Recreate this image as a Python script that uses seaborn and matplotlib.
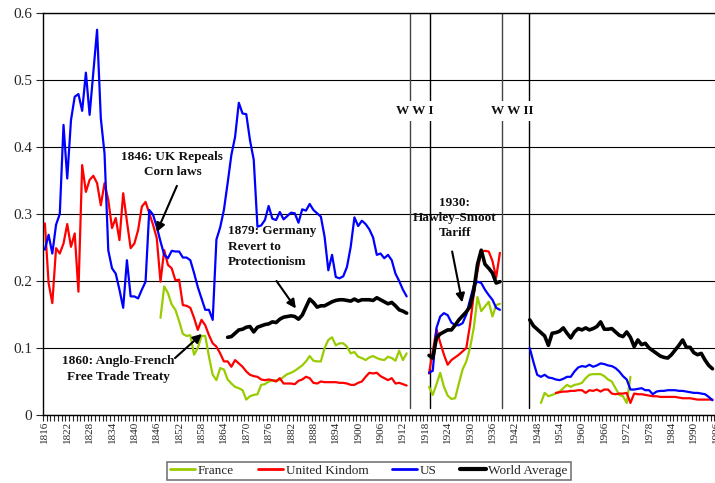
import numpy as np
import pandas as pd
import matplotlib
matplotlib.use("Agg")
import matplotlib.pyplot as plt
from matplotlib.lines import Line2D
import seaborn as sns

# tariff ratios, one list per series and period
us_1816 = [0.247, 0.269, 0.241, 0.284, 0.300, 0.433, 0.353, 0.440, 0.475, 0.479,
           0.454, 0.511, 0.448, 0.512, 0.575, 0.443, 0.390, 0.246, 0.219, 0.211,
           0.187, 0.160, 0.231, 0.177, 0.177, 0.174, 0.187, 0.199, 0.306, 0.299,
           0.281, 0.259, 0.239, 0.234, 0.245, 0.244, 0.244, 0.235, 0.235, 0.231,
           0.212, 0.191, 0.174, 0.157, 0.157, 0.142, 0.262, 0.280, 0.306, 0.346,
           0.388, 0.415, 0.466, 0.450, 0.449, 0.410, 0.381, 0.281, 0.283, 0.291,
           0.312, 0.293, 0.291, 0.303, 0.292, 0.297, 0.302, 0.301, 0.287, 0.307,
           0.305, 0.315, 0.306, 0.301, 0.296, 0.266, 0.216, 0.239, 0.206, 0.204,
           0.207, 0.221, 0.251, 0.295, 0.282, 0.290, 0.285, 0.277, 0.265, 0.239,
           0.241, 0.234, 0.239, 0.231, 0.211, 0.200, 0.187, 0.177]
uk_1816 = [0.286, 0.197, 0.167, 0.249, 0.241, 0.256, 0.285, 0.251, 0.271, 0.184,
           0.373, 0.333, 0.351, 0.357, 0.346, 0.313, 0.346, 0.321, 0.279, 0.294,
           0.261, 0.331, 0.289, 0.249, 0.256, 0.276, 0.311, 0.318, 0.301, 0.284,
           0.264, 0.199, 0.246, 0.224, 0.219, 0.201, 0.202, 0.164, 0.163, 0.160,
           0.145, 0.127, 0.142, 0.134, 0.119, 0.107, 0.102, 0.092, 0.080, 0.080,
           0.072, 0.082, 0.077, 0.072, 0.065, 0.060, 0.058, 0.057, 0.053, 0.052,
           0.053, 0.052, 0.050, 0.055, 0.047, 0.047, 0.047, 0.046, 0.051, 0.053,
           0.057, 0.055, 0.048, 0.047, 0.050, 0.049, 0.049, 0.049, 0.049, 0.048,
           0.048, 0.047, 0.045, 0.045, 0.048, 0.050, 0.057, 0.063, 0.062, 0.063,
           0.058, 0.055, 0.052, 0.055, 0.047, 0.048, 0.046, 0.044]
france_1847 = [0.145, 0.192, 0.182, 0.165, 0.157, 0.140, 0.121, 0.118, 0.119, 0.090,
               0.100, 0.118, 0.118, 0.087, 0.060, 0.052, 0.070, 0.068, 0.053, 0.047,
               0.042, 0.040, 0.037, 0.023, 0.028, 0.030, 0.031, 0.045, 0.046, 0.050,
               0.051, 0.052, 0.052, 0.057, 0.061, 0.063, 0.066, 0.070, 0.074, 0.080,
               0.088, 0.081, 0.080, 0.080, 0.100, 0.112, 0.116, 0.104, 0.107, 0.107,
               0.102, 0.092, 0.094, 0.087, 0.085, 0.082, 0.086, 0.088, 0.085, 0.083,
               0.082, 0.087, 0.085, 0.081, 0.096, 0.082, 0.092]
world_1865 = [0.116, 0.117, 0.122, 0.127, 0.128, 0.131, 0.132, 0.124, 0.131, 0.133,
              0.135, 0.136, 0.139, 0.138, 0.143, 0.146, 0.147, 0.148, 0.147, 0.143,
              0.149, 0.161, 0.173, 0.168, 0.161, 0.163, 0.163, 0.166, 0.169, 0.171,
              0.172, 0.172, 0.171, 0.170, 0.173, 0.170, 0.172, 0.172, 0.172, 0.171,
              0.175, 0.172, 0.169, 0.166, 0.168, 0.163, 0.157, 0.155, 0.152]

# between the wars, 1919-1938
us_1919 = [0.063, 0.066, 0.130, 0.147, 0.152, 0.149, 0.138, 0.134, 0.134, 0.137,
           0.150, 0.172, 0.193, 0.199, 0.197, 0.187, 0.179, 0.172, 0.160, 0.157]
uk_1919 = [0.062, 0.095, 0.128, 0.108, 0.090, 0.075, 0.082, 0.086, 0.090, 0.095,
           0.100, 0.135, 0.180, 0.215, 0.244, 0.245, 0.244, 0.230, 0.205, 0.242]
france_1919 = [0.042, 0.030, 0.046, 0.063, 0.042, 0.029, 0.024, 0.025, 0.047, 0.068,
               0.080, 0.100, 0.130, 0.176, 0.155, 0.162, 0.169, 0.147, 0.164, 0.166]
world_1919 = [0.089, 0.085, 0.115, 0.121, 0.124, 0.127, 0.127, 0.134, 0.142, 0.148,
              0.154, 0.162, 0.186, 0.225, 0.246, 0.225, 0.219, 0.212, 0.197, 0.199]

# after WWII
us_1946 = [0.100, 0.079, 0.060, 0.057, 0.060, 0.056, 0.055, 0.053, 0.052, 0.054,
           0.057, 0.057, 0.065, 0.071, 0.073, 0.072, 0.075, 0.072, 0.074, 0.077,
           0.076, 0.074, 0.073, 0.070, 0.065, 0.058, 0.053, 0.038, 0.038, 0.039,
           0.040, 0.037, 0.037, 0.031, 0.035, 0.036, 0.036, 0.037, 0.037, 0.037,
           0.036, 0.036, 0.035, 0.034, 0.033, 0.033, 0.032, 0.031, 0.027, 0.022]
world_1946 = [0.142, 0.133, 0.128, 0.123, 0.118, 0.104, 0.122, 0.123, 0.125, 0.130,
              0.122, 0.115, 0.124, 0.129, 0.127, 0.130, 0.127, 0.129, 0.132, 0.139,
              0.128, 0.128, 0.129, 0.124, 0.119, 0.117, 0.124, 0.116, 0.102, 0.112,
              0.105, 0.107, 0.100, 0.096, 0.092, 0.088, 0.086, 0.085, 0.090, 0.097,
              0.104, 0.112, 0.101, 0.101, 0.093, 0.090, 0.092, 0.082, 0.074, 0.069]
france_1949 = [0.018, 0.033, 0.028, 0.030, 0.032, 0.035, 0.040, 0.045, 0.042, 0.045,
               0.046, 0.048, 0.055, 0.060, 0.061, 0.061, 0.061, 0.058, 0.053, 0.050,
               0.040, 0.030, 0.028, 0.018, 0.057]
uk_1953 = [0.033, 0.034, 0.035, 0.035, 0.036, 0.036, 0.037, 0.037, 0.033, 0.037,
           0.036, 0.038, 0.035, 0.038, 0.038, 0.032, 0.031, 0.032, 0.032, 0.033,
           0.018, 0.032, 0.031, 0.031, 0.030, 0.029, 0.028, 0.028, 0.027, 0.027,
           0.027, 0.027, 0.027, 0.026, 0.025, 0.025, 0.025, 0.024, 0.023, 0.023,
           0.023, 0.023, 0.023]

series_names = ["France", "United Kindom", "US", "World Average"]
segments = [
    ("France", 1847, france_1847), ("France", 1919, france_1919), ("France", 1949, france_1949),
    ("United Kindom", 1816, uk_1816), ("United Kindom", 1919, uk_1919), ("United Kindom", 1953, uk_1953),
    ("US", 1816, us_1816), ("US", 1919, us_1919), ("US", 1946, us_1946),
    ("World Average", 1865, world_1865), ("World Average", 1919, world_1919), ("World Average", 1946, world_1946),
]
war_lines = [1913.85, 1919.3, 1938.5, 1945.8]
y_ticks = [0, 0.1, 0.2, 0.3, 0.4, 0.5, 0.6]
y_labels = ["0", "0.1", "0.2", "0.3", "0.4", "0.5", "0.6"]
x_labels = list(range(1816, 1997, 6))

rows = []
for name, start, vals in segments:
    for i, v in enumerate(vals):
        rows.append({"year": start + i, "value": v, "series": name, "seg": f"{name}{start}"})
df = pd.DataFrame(rows)

colors = {"France": "#99CC00", "United Kindom": "#FF0000", "US": "#0000FF", "World Average": "#000000"}
widths = {"France": 1.6, "United Kindom": 1.6, "US": 1.6, "World Average": 2.6}

sns.set_style("white")
plt.rcParams["font.family"] = ["Liberation Serif", "DejaVu Serif"]

fig = plt.figure(figsize=(7.15, 4.83), dpi=100)
ax = fig.add_axes([43 / 715, 68 / 483, 690 / 715, 402 / 483])

for y in y_ticks:
    ax.axhline(y, color="black", lw=0.8, zorder=0)

sns.lineplot(data=df, x="year", y="value", hue="series", units="seg", estimator=None,
             size="series", sizes=widths, palette=colors, hue_order=series_names,
             legend=False, ax=ax, zorder=3)

war_colors = ["#444444", "black", "#444444", "black"]
for xv, c in zip(war_lines, war_colors):
    ax.plot([xv, xv], [0.01, 0.6], color=c, lw=1, zorder=2)

ax.set_xlim(1815.5, 2000.5)
ax.set_ylim(0, 0.6)
ax.set_xlabel("")
ax.set_ylabel("")
ax.set_yticks(y_ticks)
ax.set_yticklabels(y_labels, fontsize=11)
ax.set_xticks(x_labels)
ax.set_xticklabels([str(v) for v in x_labels], rotation=90, fontsize=8)
ax.set_xticks(np.arange(1815.5, 2000.6, 1), minor=True)
ax.tick_params(axis="x", which="major", length=0, pad=4)
ax.tick_params(axis="x", which="minor", bottom=True, length=4, width=0.8, direction="out")
ax.tick_params(axis="y", left=True, length=5, width=0.8, direction="out", pad=3)
for s in ["left", "bottom", "top"]:
    ax.spines[s].set_color("black")
    ax.spines[s].set_linewidth(1)
ax.spines["right"].set_visible(False)

bold = dict(fontsize=9.5, fontweight="bold", color="#111111", zorder=5)
ax.text(1915.2, 0.454, "W W I", ha="center", va="center",
        bbox=dict(facecolor="white", edgecolor="none", pad=3), **bold)
ax.text(1941.3, 0.454, "W W II", ha="center", va="center",
        bbox=dict(facecolor="white", edgecolor="none", pad=3), **bold)

arrow = dict(arrowstyle="-|>", color="black", lw=1.5, mutation_scale=13, shrinkA=0, shrinkB=0)
ax.text(1850.2, 0.374, "1846: UK Repeals\nCorn laws", ha="center", va="center", linespacing=1.4, **bold)
ax.annotate("", xy=(1846.0, 0.273), xytext=(1851.4, 0.342), arrowprops=arrow)
ax.text(1865.1, 0.251, "1879: Germany\nRevert to\nProtectionism", ha="left", va="center",
        linespacing=1.4, **bold)
ax.annotate("", xy=(1883.3, 0.159), xytext=(1878.1, 0.200), arrowprops=arrow)
ax.text(1835.7, 0.069, "1860: Anglo-French\nFree Trade Treaty", ha="center", va="center",
        linespacing=1.4, **bold)
ax.annotate("", xy=(1858.1, 0.121), xytext=(1850.9, 0.085), arrowprops=arrow)
ax.text(1925.9, 0.294, "1930:\nHawley-Smoot\nTariff", ha="center", va="center", linespacing=1.35, **bold)
ax.annotate("", xy=(1927.9, 0.168), xytext=(1925.2, 0.244), arrowprops=arrow)

handles = [Line2D([0], [0], color=colors[n], lw=widths[n] + 0.4) for n in series_names]
leg = fig.legend(handles, series_names, loc="center", bbox_to_anchor=(0.516, 0.025), ncol=4,
                 fontsize=9.5, frameon=True, fancybox=False, handlelength=1.9,
                 handletextpad=0.2, columnspacing=1.8, borderpad=0.25)
leg.get_frame().set_edgecolor("#555555")
leg.get_frame().set_linewidth(1.2)

fig.savefig("out.png", dpi=100)
